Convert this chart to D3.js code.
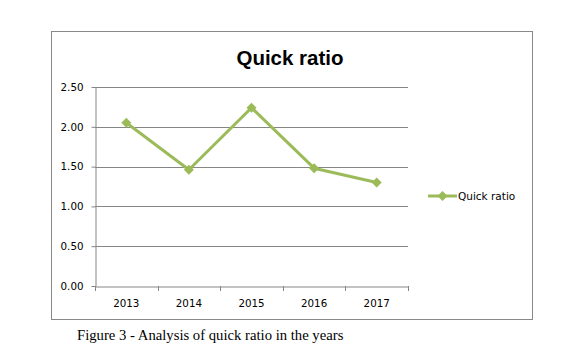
<!DOCTYPE html>
<html><head><meta charset="utf-8">
<script src="https://cdnjs.cloudflare.com/ajax/libs/d3/7.8.5/d3.min.js"></script>
<style>body{margin:0;background:#fff}</style>
</head><body>
<svg id="c" width="581" height="360"></svg>
<script>
const years = ["2013","2014","2015","2016","2017"];
const quickRatio = [2.05, 1.46, 2.24, 1.48, 1.30];
const yTicks = [0, 0.5, 1.0, 1.5, 2.0, 2.5];
const seriesName = "Quick ratio";
const chartTitle = "Quick ratio";
const caption = "Figure 3 - Analysis of quick ratio in the years";

const svg = d3.select("#c");
const color = "#9bbb59";
const L = 95, R = 408, T = 87, B = 286;

svg.append("rect").attr("x", 51.5).attr("y", 31.5).attr("width", 481).attr("height", 288)
  .attr("fill", "#fff").attr("stroke", "#888").attr("stroke-width", 1);

const x = d3.scaleBand().domain(years).range([L, R]);
const y = d3.scaleLinear().domain([0, 2.5]).range([B, T]);

// gridlines
svg.append("g").selectAll("line").data(yTicks.filter(d => d > 0)).join("line")
  .attr("x1", L).attr("x2", R)
  .attr("y1", d => Math.round(y(d)) + 0.5).attr("y2", d => Math.round(y(d)) + 0.5)
  .attr("stroke", "#868686").attr("stroke-width", 1);

// y axis
const ya = svg.append("g").attr("transform", `translate(${L + 0.5},0)`)
  .call(d3.axisLeft(y).tickValues(yTicks).tickFormat(d3.format(".2f")).tickSize(4).tickPadding(8).tickSizeOuter(0));
ya.select(".domain").attr("stroke", "#868686");
ya.selectAll(".tick line").attr("stroke", "#868686");
ya.selectAll("text").attr("font-family", "DejaVu Sans").attr("font-size", 10.3).attr("fill", "#000");

// x axis with ticks at category boundaries
const xa = svg.append("g").attr("transform", `translate(0,${Math.round(B) + 0.5})`)
  .call(d3.axisBottom(x).tickSize(0).tickPadding(13).tickSizeOuter(0));
xa.select(".domain").attr("stroke", "#868686");
xa.selectAll("text").attr("font-family", "DejaVu Sans").attr("font-size", 10.3).attr("fill", "#000");
const bounds = years.map(d => x(d)).concat([R]);
svg.append("g").selectAll("line").data(bounds).join("line")
  .attr("x1", d => Math.round(d) + 0.5).attr("x2", d => Math.round(d) + 0.5)
  .attr("y1", Math.round(B)).attr("y2", Math.round(B) + 5)
  .attr("stroke", "#868686");

// line
const cx = d => x(d) + x.bandwidth() / 2;
svg.append("path").datum(quickRatio)
  .attr("d", d3.line().x((d, i) => cx(years[i])).y(d => y(d)))
  .attr("fill", "none").attr("stroke", color).attr("stroke-width", 3).attr("stroke-linejoin", "round");

const diamond = d3.symbol().type(d3.symbolDiamond2).size(64);
svg.append("g").selectAll("path").data(quickRatio).join("path")
  .attr("transform", (d, i) => `translate(${cx(years[i])},${y(d)})`)
  .attr("d", diamond).attr("fill", color);

// title
svg.append("text").attr("x", 290).attr("y", 65).attr("text-anchor", "middle")
  .attr("font-family", "Liberation Sans, Arial").attr("font-weight", "bold").attr("font-size", 20.5)
  .attr("fill", "#000").text(chartTitle);

// legend
svg.append("line").attr("x1", 428).attr("x2", 457).attr("y1", 196).attr("y2", 196)
  .attr("stroke", color).attr("stroke-width", 3);
svg.append("path").attr("transform", "translate(442.5,196)").attr("d", diamond).attr("fill", color);
svg.append("text").attr("x", 458).attr("y", 200)
  .attr("font-family", "DejaVu Sans").attr("font-size", 10.5).attr("fill", "#000").text(seriesName);

// caption
svg.append("text").attr("x", 77).attr("y", 340)
  .attr("font-family", "Liberation Serif, Times New Roman").attr("font-size", 14.7).attr("fill", "#000").text(caption);
</script>
</body></html>
